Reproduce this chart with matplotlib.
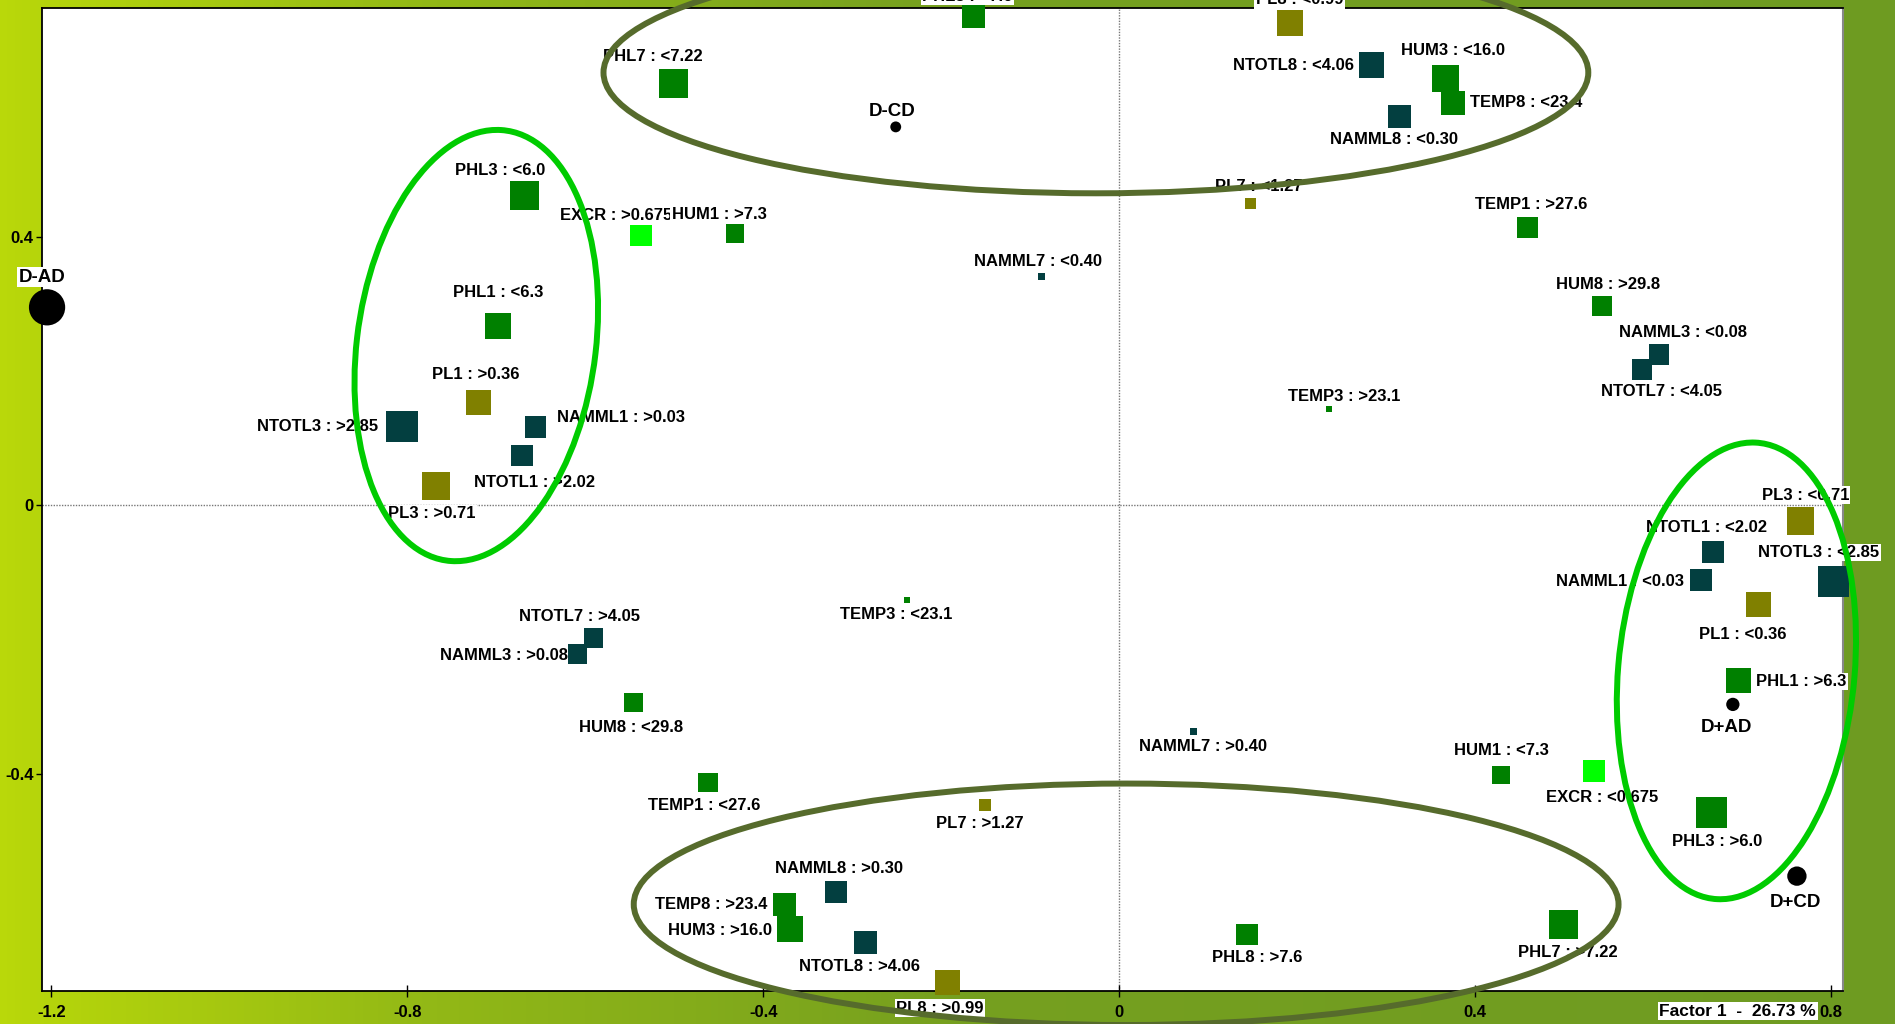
import numpy as np
import matplotlib
matplotlib.use("Agg")
import matplotlib.pyplot as plt
from matplotlib.patches import Ellipse
from matplotlib.colors import LinearSegmentedColormap

plt.rcParams['font.family'] = ['Liberation Sans Narrow', 'Liberation Sans', 'DejaVu Sans']

# ---------------- data ----------------
categories = [
    "PHL7 : <7.22", "PHL8 : <7.6", "PL8 : <0.99", "NTOTL8 : <4.06", "HUM3 : <16.0",
    "TEMP8 : <23.4", "NAMML8 : <0.30", "PL7 : <1.27", "TEMP1 : >27.6", "NAMML7 : <0.40",
    "HUM8 : >29.8", "NAMML3 : <0.08", "NTOTL7 : <4.05", "TEMP3 : >23.1",
    "PHL3 : <6.0", "EXCR : >0.675", "HUM1 : >7.3", "PHL1 : <6.3", "PL1 : >0.36",
    "NTOTL3 : >2.85", "NAMML1 : >0.03", "NTOTL1 : >2.02", "PL3 : >0.71",
    "NTOTL7 : >4.05", "NAMML3 : >0.08", "TEMP3 : <23.1", "HUM8 : <29.8", "TEMP1 : <27.6",
    "PL7 : >1.27", "NAMML8 : >0.30", "TEMP8 : >23.4", "HUM3 : >16.0", "NTOTL8 : >4.06",
    "PL8 : >0.99", "NAMML7 : >0.40", "PHL8 : >7.6", "HUM1 : <7.3", "EXCR : <0.675",
    "PHL7 : >7.22", "PHL3 : >6.0", "PHL1 : >6.3", "PL1 : <0.36", "NAMML1 : <0.03",
    "NTOTL1 : <2.02", "PL3 : <0.71", "NTOTL3 : <2.85",
]
factor1 = [
    -0.501, -0.164, 0.192, 0.284, 0.367,
    0.375, 0.315, 0.148, 0.459, -0.087,
    0.543, 0.607, 0.588, 0.236,
    -0.668, -0.537, -0.432, -0.698, -0.720,
    -0.806, -0.656, -0.671, -0.768,
    -0.591, -0.609, -0.238, -0.546, -0.462,
    -0.151, -0.318, -0.376, -0.370, -0.285,
    -0.193, 0.084, 0.144, 0.429, 0.534,
    0.500, 0.666, 0.696, 0.719, 0.654,
    0.668, 0.766, 0.803,
]
factor2 = [
    0.629, 0.728, 0.719, 0.656, 0.636,
    0.600, 0.580, 0.450, 0.414, 0.341,
    0.297, 0.225, 0.202, 0.144,
    0.461, 0.402, 0.405, 0.267, 0.153,
    0.117, 0.117, 0.074, 0.029,
    -0.198, -0.222, -0.141, -0.294, -0.413,
    -0.447, -0.577, -0.595, -0.632, -0.652,
    -0.712, -0.337, -0.640, -0.402, -0.396,
    -0.625, -0.458, -0.261, -0.148, -0.112,
    -0.070, -0.023, -0.114,
]
# representation quality (drawn as marker side)
quality = [
    24, 19, 21, 21, 22,
    20, 19, 9, 17, 6,
    17, 17, 17, 5,
    24, 18, 15, 21, 21,
    26, 18, 18, 23,
    16, 16, 5, 16, 16,
    10, 18, 19, 21, 19,
    21, 6, 18, 15, 18,
    24, 25, 21, 21, 18,
    18, 23, 26,
]

sup_labels = ["D-AD", "D-CD", "D+AD", "D+CD"]
sup_f1 = [-1.205, -0.251, 0.690, 0.762]
sup_f2 = [0.295, 0.564, -0.297, -0.553]
sup_quality = [30, 9, 11, 16]

xticks = [-1.2, -0.8, -0.4, 0, 0.4, 0.8]
yticks = [-0.4, 0, 0.4]
axis_title = "Factor 1  -  26.73 %"

# ---------------- styling ----------------
group_colors = {
    "PHL": "#008000", "HUM": "#008000", "TEMP": "#008000",
    "EXCR": "#00FF00", "PL": "#808000",
    "NTOTL": "#033F40", "NAMML": "#033F40",
}

def color_of(lab):
    var = lab.split(" :")[0].rstrip("0123456789")
    return group_colors[var]

# label offsets (dx, dy in reference pixels, y downwards) and alignment
place = {
    "PHL7 : <7.22": (-17, -22, "center"), "PHL8 : <7.6": (-5, -17, "center"),
    "PL8 : <0.99": (8, -19, "center"), "NTOTL8 : <4.06": (-15, 0, "right"),
    "HUM3 : <16.0": (6, -23, "center"), "TEMP8 : <23.4": (14, 0, "left"),
    "NAMML8 : <0.30": (-4, 19, "center"), "PL7 : <1.27": (7, -14, "center"),
    "TEMP1 : >27.6": (3, -19, "center"), "NAMML7 : <0.40": (-3, -12, "center"),
    "HUM8 : >29.8": (5, -18, "center"), "NAMML3 : <0.08": (20, -18, "center"),
    "NTOTL7 : <4.05": (16, 18, "center"), "TEMP3 : >23.1": (13, -10, "center"),
    "PHL3 : <6.0": (-20, -21, "center"), "EXCR : >0.675": (-21, -17, "center"),
    "HUM1 : >7.3": (-13, -16, "center"), "PHL1 : <6.3": (0, -28, "center"),
    "PL1 : >0.36": (-2, -23, "center"), "NTOTL3 : >2.85": (-20, 0, "right"),
    "NAMML1 : >0.03": (18, -8, "left"), "NTOTL1 : >2.02": (10, 22, "center"),
    "PL3 : >0.71": (-3, 23, "center"), "NTOTL7 : >4.05": (-11, -18, "center"),
    "NAMML3 : >0.08": (-8, 1, "right"), "TEMP3 : <23.1": (-9, 12, "center"),
    "HUM8 : <29.8": (-2, 21, "center"), "TEMP1 : <27.6": (-3, 19, "center"),
    "PL7 : >1.27": (-4, 15, "center"), "NAMML8 : >0.30": (2, -20, "center"),
    "TEMP8 : >23.4": (-14, 0, "right"), "HUM3 : >16.0": (-15, 1, "right"),
    "NTOTL8 : >4.06": (-5, 20, "center"), "PL8 : >0.99": (-6, 21, "center"),
    "NAMML7 : >0.40": (8, 13, "center"), "PHL8 : >7.6": (8, 19, "center"),
    "HUM1 : <7.3": (1, -20, "center"), "EXCR : <0.675": (7, 22, "center"),
    "PHL7 : >7.22": (3, 23, "center"), "PHL3 : >6.0": (5, 24, "center"),
    "PHL1 : >6.3": (15, 1, "left"), "PL1 : <0.36": (-13, 25, "center"),
    "NAMML1 : <0.03": (-14, 1, "right"), "NTOTL1 : <2.02": (-6, -20, "center"),
    "PL3 : <0.71": (4, -21, "center"), "NTOTL3 : <2.85": (-12, -24, "center"),
    "D-AD": (-4, -25, "center"), "D-CD": (-3, -13, "center"),
    "D+AD": (-5, 19, "center"), "D+CD": (-1, 22, "center"),
}

PX2PT = 1895 / 1568 * 0.72  # reference px -> points

fig = plt.figure(figsize=(18.95, 10.24), dpi=100)

# background gradient
bg = fig.add_axes([0, 0, 1, 1], zorder=-10)
cmap = LinearSegmentedColormap.from_list(
    "bg", [(0.0, "#B9D80A"), (0.22, "#93B916"), (0.5, "#76A01F"), (1.0, "#6E9B22")])
grad = np.linspace(0, 1, 512)[None, :]
bg.imshow(grad, aspect="auto", cmap=cmap, extent=[0, 1, 0, 1])
bg.set_axis_off()

ax = fig.add_axes([0.0222, 0.0322, 0.9504, 0.9595])
ax.set_facecolor("white")
ax.set_xlim(-1.2106, 0.8139)
ax.set_ylim(-0.7243, 0.7405)

ax.axhline(0, color="#777777", ls=(0, (1, 1)), lw=1, zorder=1)
ax.axvline(0, color="#777777", ls=(0, (1, 1)), lw=1, zorder=1)

# category markers
cols = [color_of(c) for c in categories]
ax.scatter(factor1, factor2, s=[(q * PX2PT) ** 2 for q in quality], marker="s",
           c=cols, edgecolors="none", zorder=4, clip_on=False)
ax.scatter(sup_f1, sup_f2, s=[(q * PX2PT) ** 2 for q in sup_quality], marker="o",
           c="black", edgecolors="none", zorder=4, clip_on=False)

lab_kw = dict(textcoords="offset points", va="center", fontweight="bold",
              color="black", annotation_clip=False, zorder=3,
              bbox=dict(boxstyle="square,pad=0.08", fc="white", ec="none"))
for lab, x, y in list(zip(categories, factor1, factor2)) + list(zip(sup_labels, sup_f1, sup_f2)):
    dx, dy, ha = place[lab]
    fs = 13.5 if ":" not in lab else 12
    ax.annotate(lab, (x, y), xytext=(dx * PX2PT, -dy * PX2PT), ha=ha, fontsize=fs, **lab_kw)

# ellipses
dark = "#566B2C"
bright = "#00CC00"
for (cx, cy, w, h, ang, col) in [
    (-0.026, 0.645, 1.107, 0.36, 0, dark),
    (0.008, -0.595, 1.107, 0.36, 0, dark),
    (-0.7225, 0.238, 0.645, 0.269, 85.0, bright),
    (0.694, -0.247, 0.682, 0.266, 86.4, bright),
]:
    ax.add_patch(Ellipse((cx, cy), w, h, angle=ang, fill=False, ec=col, lw=4.3,
                         zorder=5, clip_on=False))

# axes styling
for side in ["left", "bottom", "top"]:
    ax.spines[side].set_color("black")
    ax.spines[side].set_linewidth(1.3)
ax.spines["right"].set_color("#888888")
ax.spines["right"].set_linewidth(1.5)
ax.set_xticks(xticks)
ax.set_yticks(yticks)
ax.set_xticklabels([f"{t:g}" for t in xticks], fontsize=12, fontweight="bold")
ax.set_yticklabels([f"{t:g}" for t in yticks], fontsize=12, fontweight="bold")
ax.tick_params(axis="x", direction="inout", length=8, width=1, pad=6)
ax.tick_params(axis="y", direction="out", length=4, width=1, pad=2)

fig.text(0.917, 0.0125, axis_title, ha="center", va="center", fontsize=12.5,
         fontweight="bold", bbox=dict(boxstyle="square,pad=0.1", fc="white", ec="none"))

fig.savefig("out.png", dpi=100)
